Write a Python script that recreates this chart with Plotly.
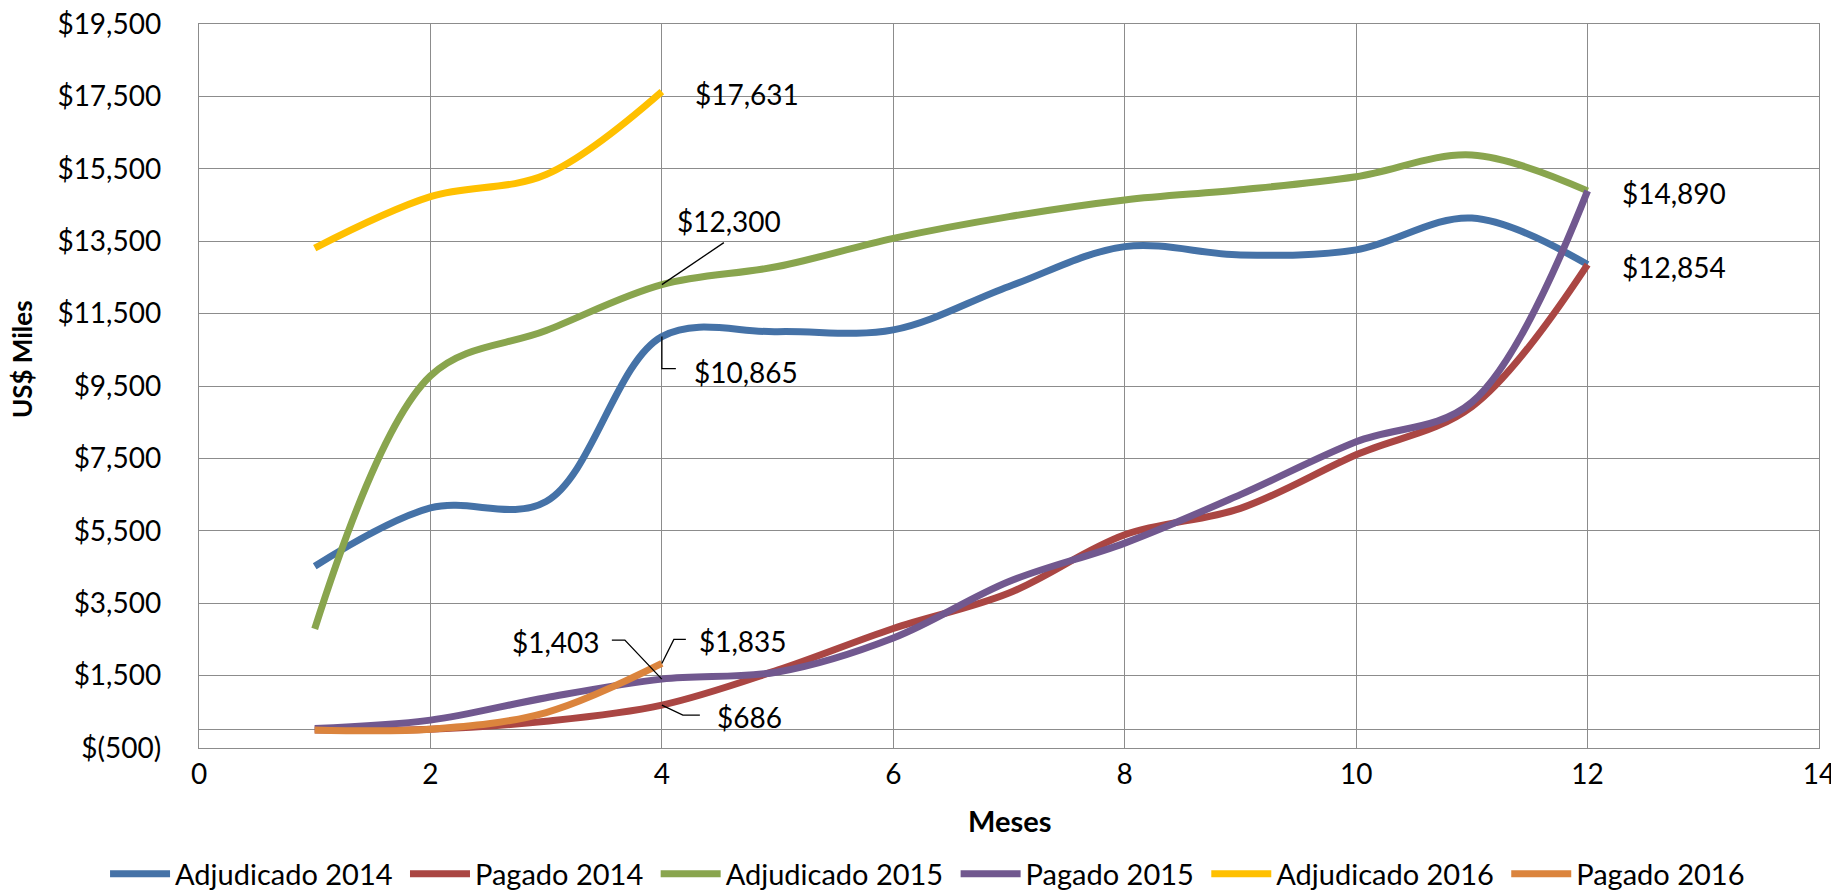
import plotly.graph_objects as go

# months on the x axis
meses = [1, 2, 3, 4, 5, 6, 7, 8, 9, 10, 11, 12]
meses_2016 = [1, 2, 3, 4]

# values (US$ thousands)
adjudicado_2014 = [4520, 6130, 6310, 10865, 11000, 11050, 12250, 13350, 13120, 13260, 14140, 12854]
pagado_2014 = [0, 20, 240, 686, 1650, 2800, 3780, 5390, 6120, 7600, 8930, 12854]
adjudicado_2015 = [2790, 9780, 11030, 12300, 12800, 13580, 14180, 14640, 14920, 15280, 15880, 14890]
pagado_2015 = [40, 270, 890, 1403, 1600, 2540, 4100, 5160, 6500, 7960, 9050, 14890]
adjudicado_2016 = [13310, 14730, 15340, 17631]
pagado_2016 = [0, 20, 480, 1835]

y_ticks = [-500, 1500, 3500, 5500, 7500, 9500, 11500, 13500, 15500, 17500, 19500]
x_ticks = [0, 2, 4, 6, 8, 10, 12, 14]

FONT = "Lato"
GRID = "#8c8c8c"
PAD = "\u00a0"  # a bit of room after each legend entry, like Excel

# the page body has an 8px margin, so the figure is sized to fit inside it
BODY = 8
W, H = 1839 - BODY, 893 - BODY


def money(v):
    """Excel style accounting label: $1,500 / $(500)"""
    if v < 0:
        return "$({:,})".format(-v)
    return "${:,}".format(v)


series = [
    ("Adjudicado 2014", meses, adjudicado_2014, "#4572A7"),
    ("Pagado 2014", meses, pagado_2014, "#AA4643"),
    ("Adjudicado 2015", meses, adjudicado_2015, "#89A54E"),
    ("Pagado 2015", meses, pagado_2015, "#71588F"),
    ("Adjudicado 2016", meses_2016, adjudicado_2016, "#FFC000"),
    ("Pagado 2016", meses_2016, pagado_2016, "#DB843D"),
]

fig = go.Figure()

for name, xs, ys, color in series:
    fig.add_trace(
        go.Scatter(
            x=xs,
            y=ys,
            name=name + PAD,
            mode="lines",
            line=dict(color=color, width=7, shape="spline", smoothing=1.0),
            hovertemplate=name + "<br>Mes: %{x}<br>%{y:$,}<extra></extra>",
        )
    )

# data labels: (x, y, x pixel shift, y pixel shift, anchor, leader path in px)
labels = [
    (4, adjudicado_2016[3], 31, -2, "left", None),
    (4, adjudicado_2015[3], 67, 64, "center", "M0,0 L62,42"),
    (4, adjudicado_2014[3], 30, -35, "left", "M0,0 L0,-32 L14,-32"),
    (4, pagado_2015[3], -60, 37, "right", "M0,0 L-37,39 L-50,39"),
    (4, pagado_2016[3], 35, 22, "left", "M0,0 L12,24 L24,24"),
    (4, pagado_2014[3], 53, -12, "left", "M0,0 L21,-10 L38,-10"),
    (12, pagado_2015[11], 32, -2, "left", None),
    (12, pagado_2014[11], 32, -2, "left", None),
]

for x, y, dx, dy, anchor, path in labels:
    fig.add_annotation(
        x=x,
        y=y,
        text=money(y),
        showarrow=False,
        xanchor=anchor,
        yanchor="middle",
        xshift=dx,
        yshift=dy,
        font=dict(family=FONT, size=28, color="black"),
    )
    if path:
        fig.add_shape(
            type="path",
            xref="x",
            yref="y",
            xsizemode="pixel",
            ysizemode="pixel",
            xanchor=x,
            yanchor=y,
            path=path,
            line=dict(color="black", width=1.3),
        )

# axis titles, placed like Excel does
fig.add_annotation(
    text="<b>Meses</b>",
    xref="paper",
    yref="paper",
    x=0.5,
    y=-0.1008,
    xanchor="center",
    yanchor="middle",
    showarrow=False,
    font=dict(family=FONT, size=29, color="black"),
)
fig.add_annotation(
    text="<b>US$ Miles</b>",
    xref="paper",
    yref="paper",
    x=-0.1095,
    y=0.5366,
    xanchor="center",
    yanchor="middle",
    textangle=-90,
    showarrow=False,
    font=dict(family=FONT, size=26, color="black"),
)

fig.update_layout(
    width=W,
    height=H,
    margin=dict(l=199 - BODY, r=20, t=24 - BODY, b=145, autoexpand=False),
    paper_bgcolor="white",
    plot_bgcolor="white",
    font=dict(family=FONT, size=28, color="black"),
    showlegend=True,
    legend=dict(
        orientation="h",
        x=-0.058,
        xanchor="left",
        y=-0.174,
        yanchor="middle",
        font=dict(family=FONT, size=29, color="black"),
        itemwidth=60,
        tracegroupgap=0,
    ),
    xaxis=dict(
        range=[0, 14],
        tickvals=x_ticks,
        ticktext=[str(v) for v in x_ticks],
        showgrid=True,
        gridcolor=GRID,
        gridwidth=1.4,
        zeroline=False,
        showline=True,
        linecolor=GRID,
        linewidth=1.4,
        mirror=True,
        ticks="",
        ticklabelstandoff=1,
        ticklabeloverflow="allow",
        automargin=False,
    ),
    yaxis=dict(
        range=[-500, 19500],
        tickvals=y_ticks,
        ticktext=[money(v) for v in y_ticks],
        showgrid=True,
        gridcolor=GRID,
        gridwidth=1.4,
        zeroline=True,
        zerolinecolor=GRID,
        zerolinewidth=1.4,
        showline=True,
        linecolor=GRID,
        linewidth=1.4,
        mirror=True,
        ticks="",
        ticklabelstandoff=31,
        ticklabeloverflow="allow",
        automargin=False,
    ),
)

fig.write_html("out.html")
